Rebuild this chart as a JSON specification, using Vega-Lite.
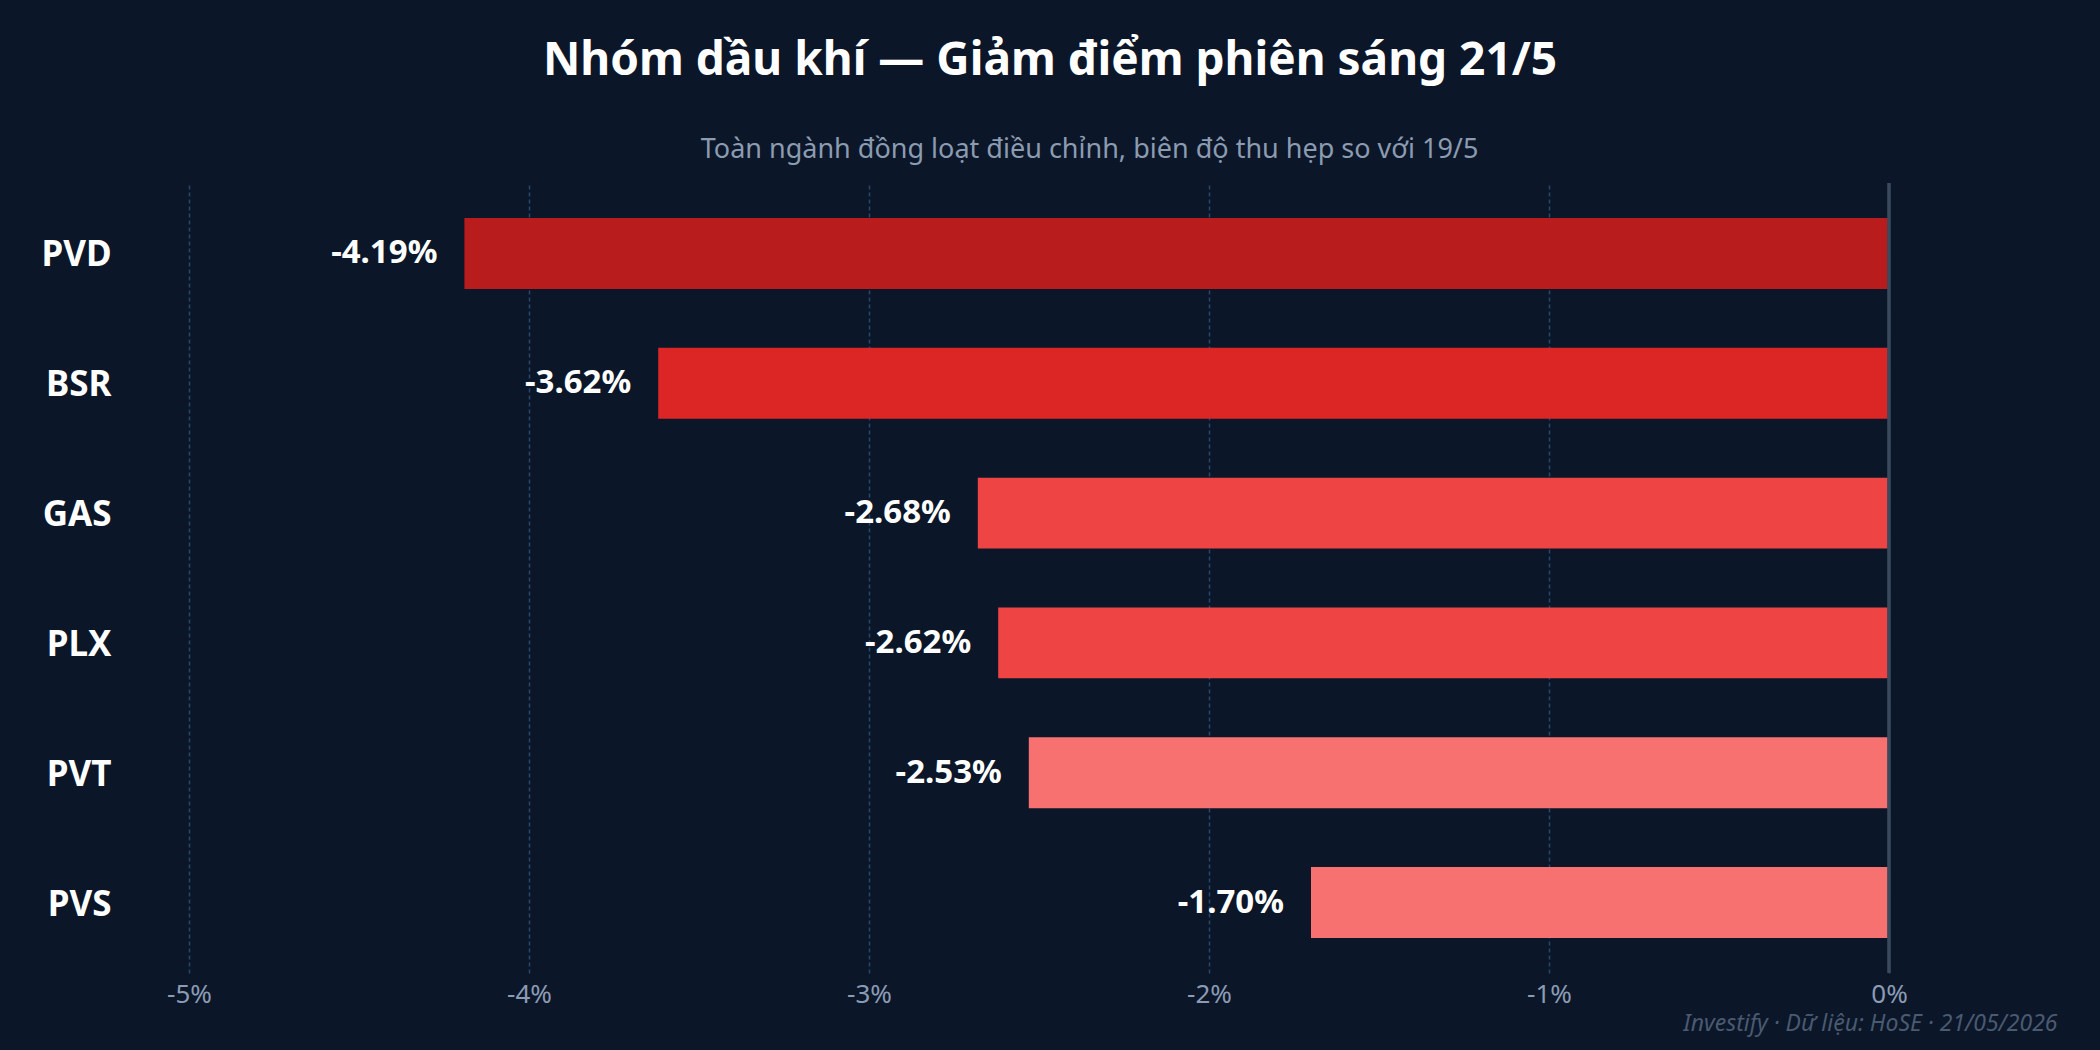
{
  "$schema": "https://vega.github.io/schema/vega-lite/v6.json",
  "width": 1700,
  "height": 790,
  "autosize": {"type": "none"},
  "padding": {"left": 189, "top": 183, "right": 211, "bottom": 77},
  "background": "#0b1629",
  "title": {
    "text": "Nhóm dầu khí — Giảm điểm phiên sáng 21/5",
    "anchor": "middle",
    "dx": 11,
    "font": "Noto Sans",
    "fontSize": 46,
    "fontWeight": "bold",
    "color": "#ffffff",
    "offset": 50
  },
  "data": {
    "values": [
      {"ticker": "PVD", "change": -4.19, "label": "-4.19%"},
      {"ticker": "BSR", "change": -3.62, "label": "-3.62%"},
      {"ticker": "GAS", "change": -2.68, "label": "-2.68%"},
      {"ticker": "PLX", "change": -2.62, "label": "-2.62%"},
      {"ticker": "PVT", "change": -2.53, "label": "-2.53%"},
      {"ticker": "PVS", "change": -1.70, "label": "-1.70%"}
    ]
  },
  "encoding": {
    "y": {
      "field": "ticker",
      "type": "nominal",
      "sort": null,
      "scale": {"paddingInner": 0.454, "paddingOuter": 0.27},
      "axis": {
        "title": null,
        "domain": false,
        "ticks": false,
        "grid": false,
        "labelFont": "Noto Sans",
        "labelFontSize": 35,
        "labelFontWeight": "bold",
        "labelColor": "#ffffff",
        "labelPadding": 78,
        "labelOffset": 2
      }
    }
  },
  "layer": [
    {
      "mark": {"type": "bar"},
      "encoding": {
        "x": {
          "field": "change",
          "type": "quantitative",
          "scale": {"domain": [-5, 0], "nice": false},
          "axis": {
            "values": [-5, -4, -3, -2, -1, 0],
            "labelExpr": "datum.value + '%'",
            "labelFlush": false,
            "domain": false,
            "ticks": false,
            "grid": true,
            "gridColor": "#26486e",
            "gridDash": [4, 3],
            "gridWidth": 1.5,
            "labelFont": "Noto Sans",
            "labelFontSize": 26,
            "labelColor": "#8b9bb4",
            "labelPadding": 8,
            "title": "Investify · Dữ liệu: HoSE · 21/05/2026",
            "titleFont": "Noto Sans",
            "titleFontSize": 23,
            "titleFontStyle": "italic",
            "titleFontWeight": "normal",
            "titleColor": "#4a5a70",
            "titleAlign": "right",
            "titleBaseline": "alphabetic",
            "titleX": 1868,
            "titleY": 57
          }
        },
        "color": {
          "field": "ticker",
          "type": "nominal",
          "legend": null,
          "scale": {
            "domain": ["PVD", "BSR", "GAS", "PLX", "PVT", "PVS"],
            "range": ["#b91c1c", "#dc2626", "#ef4444", "#ef4444", "#f87171", "#f87171"]
          }
        }
      }
    },
    {
      "mark": {
        "type": "text",
        "align": "right",
        "baseline": "middle",
        "dx": -27,
        "font": "Noto Sans",
        "fontSize": 33,
        "fontWeight": "bold",
        "color": "#ffffff"
      },
      "encoding": {
        "x": {
          "field": "change",
          "type": "quantitative",
          "axis": {
            "orient": "top",
            "labels": false,
            "ticks": false,
            "domain": false,
            "grid": false,
            "title": "Toàn ngành đồng loạt điều chỉnh, biên độ thu hẹp so với 19/5",
            "titleFont": "Noto Sans",
            "titleFontSize": 27,
            "titleFontWeight": "normal",
            "titleColor": "#8b9bb0",
            "titleAlign": "center",
            "titleBaseline": "alphabetic",
            "titleX": 900,
            "titleY": -26
          }
        },
        "text": {"field": "label"}
      }
    },
    {
      "mark": {"type": "rule", "color": "#3b4a5e", "strokeWidth": 2.5},
      "encoding": {"x": {"datum": 0, "axis": null}, "y": null}
    }
  ],
  "resolve": {"axis": {"x": "independent"}},
  "config": {"view": {"stroke": null}}
}
